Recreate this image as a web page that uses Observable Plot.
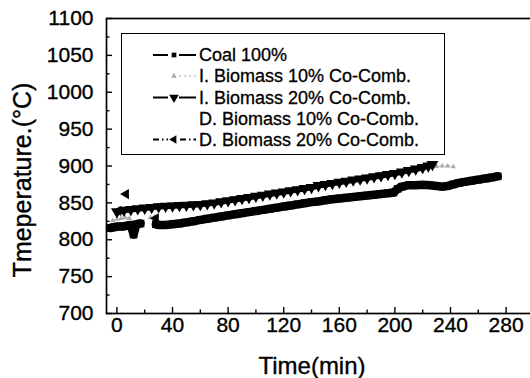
<!DOCTYPE html>
<html><head><meta charset="utf-8">
<script src="https://cdn.jsdelivr.net/npm/d3@7"></script>
<script src="https://cdn.jsdelivr.net/npm/@observablehq/plot@0.6"></script>
<style>
body{margin:0;background:#fff;}
#wrap{position:relative;width:530px;height:378px;overflow:hidden;font-family:"Liberation Sans",Arial,sans-serif;color:#000;}
#wrap svg{display:block;}
#wrap svg text{stroke:#000;stroke-width:0.35px;}
.ttl{position:absolute;font-size:24px;line-height:24px;white-space:nowrap;-webkit-text-stroke:0.35px #000;}
#legend{position:absolute;left:121px;top:33px;width:322px;height:120px;border:1.5px solid #000;background:#fff;}
.lt{position:absolute;left:77px;font-size:18px;white-space:nowrap;line-height:20px;-webkit-text-stroke:0.3px #000;}
</style></head><body><div id="wrap"></div>
<script>
// ---- data ----
const coalTime = [-5,-2,1,4,7,10,12,14,17,22,
  28,30,35,40,45,50,55,60,65,70,75,80,85,90,95,100,105,110,115,120,125,130,135,140,145,150,155,160,165,170,175,180,185,190,195,199,202,205,210,215,220,225,230,234,238,242,246,250,255,260,265,270,274];
const coalTemp = [816,817,818,818,819,820,807,821,822,null,
  821,820,820,821,822,823.5,825,827,828.5,830,831.5,833,834.5,836,837.5,839,840.5,842,843.5,845,846.5,848,849.5,851,852,853.5,855,856,857,858,859,860,861,862,863,864,869,872,874,874,874.5,874,873,872,873,875,877,878.5,880,881.5,883,884.5,886];

const ib20Time = [0,5,10,15,20,25,30,35,40,45,50,55,60,65,70,75,80,85,90,95,100,105,110,115,120,125,130,135,140,145,150,155,160,165,170,175,180,185,190,195,200,205,210,215,220,224,227];
const ib20Temp = [838,840,841,842,843,844,845,845.5,846,846.5,847,847.5,848,849,850,851.5,853,854.5,856,857.5,859,860.5,862,863.5,865,866.5,868,869.5,871,873.5,875,876.5,878,879.5,881,882.5,884,885.5,887,888.5,890,892,894,896,898,900,902];

const ib10Time = [-3,0,3,6,9,15,24,27,200,226,230,234,238,242];
const ib10Temp = [826,828,829,830,829,null,830,831,null,900,899.5,900,900,899];

const db20Time = [1,6.5,28];
const db20Temp = [839,862,829];

const seriesNames = ["Coal 100%","I. Biomass 10% Co-Comb.","I. Biomass 20% Co-Comb.","D. Biomass 10% Co-Comb.","D. Biomass 20% Co-Comb."];

const xDomain = [-7.5, 299];
const yDomain = [700, 1100];
const xTickLabels = [0,40,80,120,160,200,240,280];
const xMinorTicks = [20,60,100,140,180,220,260];
const yTickLabels = [700,750,800,850,900,950,1000,1050,1100];
const yMinorTicks = [725,775,825,875,925,975,1025,1075];
const xTitle = "Time(min)";
const yTitle = "Tmeperature.(°C)";

// ---- build ----
const rows = (t, v) => t.map((d, i) => ({t: d, v: v[i]}));
const coal = rows(coalTime, coalTemp);
const ib20 = rows(ib20Time, ib20Temp);
const ib10 = rows(ib10Time, ib10Temp);
const db20 = rows(db20Time, db20Temp);

const s3 = Math.sqrt(3);
const triDown = {draw(ctx, size){ const y = -Math.sqrt(size/(s3*3)); ctx.moveTo(0,-y*2); ctx.lineTo(-s3*y, y); ctx.lineTo(s3*y, y); ctx.closePath(); }};
const triLeft = {draw(ctx, size){ const y = -Math.sqrt(size/(s3*3)); ctx.moveTo(y*2,0); ctx.lineTo(-y, -s3*y); ctx.lineTo(-y, s3*y); ctx.closePath(); }};

const W = 530, H = 378, mL = 106, mR = -2, mT = 18, mB = 65;
const plotH = H - mT - mB, plotW = W - mL - mR;

const chart = Plot.plot({
  width: W, height: H,
  marginLeft: mL, marginRight: mR, marginTop: mT, marginBottom: mB,
  style: {fontFamily: "Liberation Sans, Arial, sans-serif", fontSize: "21px", color: "#000", background: "#fff", overflow: "visible"},
  x: {domain: xDomain},
  y: {domain: yDomain},
  marks: [
    // I. Biomass 10% (gray, dotted)
    Plot.line(ib10, {x: "t", y: "v", stroke: "#bbb", strokeWidth: 1, strokeDasharray: "1.5,2"}),
    Plot.dot(ib10, {x: "t", y: "v", symbol: "triangle", r: 2, fill: "#aaa", stroke: "none"}),
    // Coal 100%
    Plot.line(coal, {x: "t", y: "v", stroke: "#000", strokeWidth: 8.5}),
    Plot.dot(coal, {x: "t", y: "v", symbol: "square", r: 4.3, fill: "#000", stroke: "none"}),
    // I. Biomass 20%
    Plot.line(ib20, {x: "t", y: "v", stroke: "#000", strokeWidth: 6}),
    Plot.dot(ib20, {x: "t", y: "v", symbol: triDown, r: 4.4, fill: "#000", stroke: "none"}),
    // D. Biomass 20%
    Plot.dot(db20, {x: "t", y: "v", symbol: triLeft, r: 3.8, fill: "#000", stroke: "none"}),
    // ticks (inward)
    Plot.ruleX(xTickLabels, {x: d => d, insetTop: plotH - 6, stroke: "#000", strokeWidth: 1.4}),
    Plot.ruleX(xMinorTicks, {x: d => d, insetTop: plotH - 3.5, stroke: "#000", strokeWidth: 1.4}),
    Plot.ruleY(yTickLabels, {y: d => d, insetRight: plotW - 6, stroke: "#000", strokeWidth: 1.4}),
    Plot.ruleY(yMinorTicks, {y: d => d, insetRight: plotW - 3.5, stroke: "#000", strokeWidth: 1.4}),
    Plot.axisX(xTickLabels, {tickSize: 0, tickPadding: 3.5, fontSize: 21, label: null, tickFormat: d => String(d)}),
    Plot.axisY(yTickLabels, {tickSize: 0, tickPadding: 13, fontSize: 21, label: null, tickFormat: d => String(d)}),
    Plot.frame({stroke: "#000", strokeWidth: 1.7})
  ]
});

const wrap = document.getElementById("wrap");
wrap.appendChild(chart);

// axis titles
const xt = document.createElement("div");
xt.className = "ttl"; xt.textContent = xTitle;
xt.style.left = "312px"; xt.style.top = "366px"; xt.style.transform = "translate(-50%,-50%)";
wrap.appendChild(xt);
const yt = document.createElement("div");
yt.className = "ttl"; yt.textContent = yTitle;
yt.style.fontSize = "25px"; yt.style.lineHeight = "25px";
yt.style.left = "22px"; yt.style.top = "180px"; yt.style.transform = "translate(-50%,-50%) rotate(-90deg)";
wrap.appendChild(yt);

// legend (inside the frame)
const lg = document.createElement("div");
lg.id = "legend";
wrap.appendChild(lg);
const rowY = [21, 42, 63.5, 84.5, 105.5];
const ns = "http://www.w3.org/2000/svg";
const lsvg = document.createElementNS(ns, "svg");
lsvg.setAttribute("width", 322); lsvg.setAttribute("height", 120);
lsvg.style.position = "absolute"; lsvg.style.left = "0"; lsvg.style.top = "0";
lg.appendChild(lsvg);
const sym = [
  {line: "solid", color: "#000", shape: d3.symbolSquare, size: 22, x1: 31},
  {line: "dot", color: "#aaa", shape: d3.symbolTriangle, size: 14, x1: 57},
  {line: "solid", color: "#000", shape: triDown, size: 40, x1: 31},
  null,
  {line: "dashdot", color: "#000", shape: triLeft, size: 30, x1: 31}
];
seriesNames.forEach((name, i) => {
  const t = document.createElement("div");
  t.className = "lt"; t.textContent = name;
  t.style.top = (rowY[i] - 10) + "px";
  lg.appendChild(t);
  const s = sym[i];
  if (!s) return;
  const ln = document.createElementNS(ns, "line");
  ln.setAttribute("x1", s.x1); ln.setAttribute("x2", 74);
  ln.setAttribute("y1", rowY[i]); ln.setAttribute("y2", rowY[i]);
  ln.setAttribute("stroke", s.color);
  ln.setAttribute("stroke-width", s.line === "dot" ? 1.2 : 1.8);
  if (s.line === "dot") ln.setAttribute("stroke-dasharray", "2,3");
  if (s.line === "dashdot") ln.setAttribute("stroke-dasharray", "6,3,1.5,3");
  lsvg.appendChild(ln);
  const bg = document.createElementNS(ns, "rect");
  bg.setAttribute("x", 46); bg.setAttribute("y", rowY[i]-5); bg.setAttribute("width", 11); bg.setAttribute("height", 10);
  bg.setAttribute("fill", "#fff");
  lsvg.appendChild(bg);
  const p = document.createElementNS(ns, "path");
  p.setAttribute("d", d3.symbol(s.shape, s.size)());
  p.setAttribute("transform", `translate(52,${rowY[i]})`);
  p.setAttribute("fill", s.color);
  lsvg.appendChild(p);
});
</script>
</body></html>
